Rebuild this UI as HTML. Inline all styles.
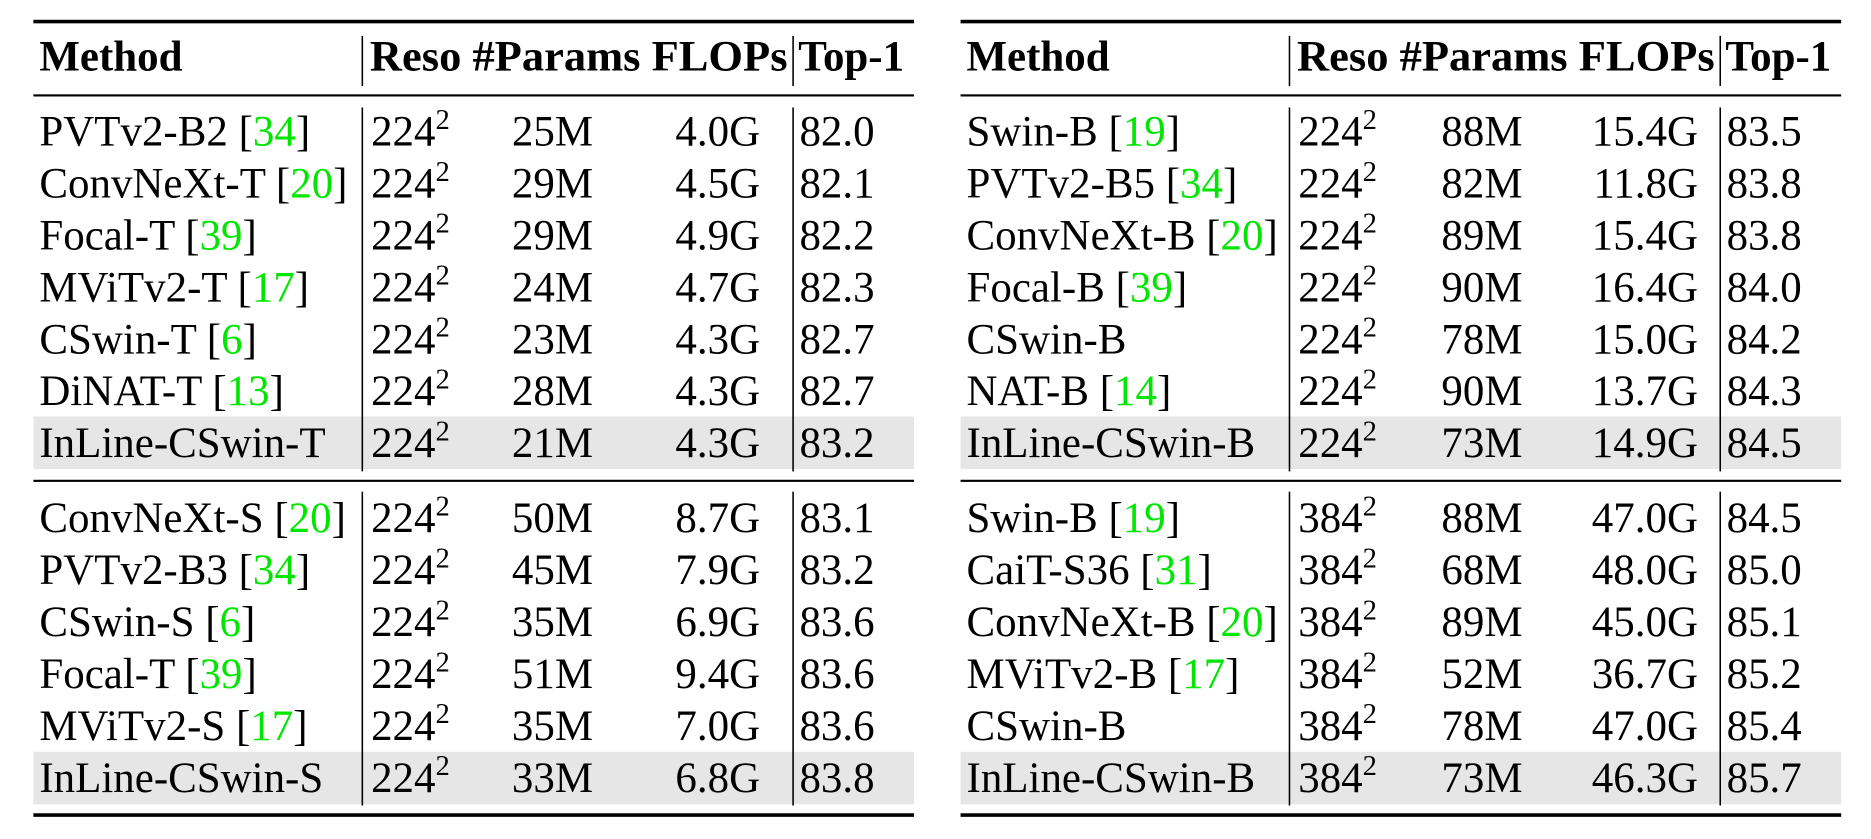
<!DOCTYPE html>
<html><head><meta charset="utf-8"><style>
html,body{margin:0;padding:0;background:#fff;}
svg{display:block;font-family:"Liberation Serif",serif;}
</style></head><body>
<svg id="s" width="1871" height="839" viewBox="0 0 1568 703"></svg>
<script>
const leftMethods=[["PVTv2-B2 ","34"],["ConvNeXt-T ","20"],["Focal-T ","39"],["MViTv2-T ","17"],["CSwin-T ","6"],["DiNAT-T ","13"],["InLine-CSwin-T",""],["ConvNeXt-S ","20"],["PVTv2-B3 ","34"],["CSwin-S ","6"],["Focal-T ","39"],["MViTv2-S ","17"],["InLine-CSwin-S",""]];
const leftReso=["224","224","224","224","224","224","224","224","224","224","224","224","224"];
const leftParams=["25M","29M","29M","24M","23M","28M","21M","50M","45M","35M","51M","35M","33M"];
const leftFlops=["4.0G","4.5G","4.9G","4.7G","4.3G","4.3G","4.3G","8.7G","7.9G","6.9G","9.4G","7.0G","6.8G"];
const leftTop1=["82.0","82.1","82.2","82.3","82.7","82.7","83.2","83.1","83.2","83.6","83.6","83.6","83.8"];
const rightMethods=[["Swin-B ","19"],["PVTv2-B5 ","34"],["ConvNeXt-B ","20"],["Focal-B ","39"],["CSwin-B",""],["NAT-B ","14"],["InLine-CSwin-B",""],["Swin-B ","19"],["CaiT-S36 ","31"],["ConvNeXt-B ","20"],["MViTv2-B ","17"],["CSwin-B",""],["InLine-CSwin-B",""]];
const rightReso=["224","224","224","224","224","224","224","384","384","384","384","384","384"];
const rightParams=["88M","82M","89M","90M","78M","90M","73M","88M","68M","89M","52M","78M","73M"];
const rightFlops=["15.4G","11.8G","15.4G","16.4G","15.0G","13.7G","14.9G","47.0G","48.0G","45.0G","36.7G","47.0G","46.3G"];
const rightTop1=["83.5","83.8","83.8","84.0","84.2","84.3","84.5","84.5","85.0","85.1","85.2","85.4","85.7"];

const S=document.getElementById('s');const NS="http://www.w3.org/2000/svg";
function el(t,a,name,txt){const e=document.createElementNS(NS,t);for(const k in a)e.setAttribute(k,a[k]);


if(txt!==undefined)e.textContent=txt;S.appendChild(e);return e;}
const rowY=[110,153.5,197,240.5,284,327.5,371,434,477.5,521,564.5,608,651.5];
function table(x0,x1,v1,v2,cols,methods,reso,params,flops,top1,side){
  el('rect',{x:x0,y:349,width:x1-x0,height:44,fill:'#e6e6e6'},side+'-highlight-row-1');
  el('rect',{x:x0,y:630,width:x1-x0,height:44,fill:'#e6e6e6'},side+'-highlight-row-2');
  el('rect',{x:x0,y:16.5,width:x1-x0,height:3,fill:'#000'},side+'-top-rule');
  el('rect',{x:x0,y:79,width:x1-x0,height:1.8,fill:'#000'},side+'-header-rule');
  el('rect',{x:x0,y:402,width:x1-x0,height:1.8,fill:'#000'},side+'-mid-rule');
  el('rect',{x:x0,y:681.5,width:x1-x0,height:3,fill:'#000'},side+'-bottom-rule');
  [[30,72],[90,395],[412,675]].forEach((r,i)=>{
    el('rect',{x:v1,y:r[0],width:1.3,height:r[1]-r[0],fill:'#000'},side+'-vline-a-'+i);
    el('rect',{x:v2,y:r[0],width:1.3,height:r[1]-r[0],fill:'#000'},side+'-vline-b-'+i);
  });
  el('text',{x:x0+5,y:59,'font-size':36,'font-weight':'bold'},side+'-header-method','Method');
  el('text',{x:v1+7,y:59,'font-size':36,'font-weight':'bold',textLength:v2-v1-11,lengthAdjust:'spacingAndGlyphs'},side+'-header-metrics','Reso #Params FLOPs');
  el('text',{x:v2+5,y:59,'font-size':36,'font-weight':'bold'},side+'-header-top1','Top-1');
  for(let i=0;i<methods.length;i++){
    const b=rowY[i]+12;
    const t=el('text',{x:x0+5,y:b,'font-size':36},side+'-method-'+i);
    const a=document.createElementNS(NS,'tspan');a.textContent=methods[i][0];t.appendChild(a);
    if(methods[i][1]){
      const s1=document.createElementNS(NS,'tspan');s1.textContent='[';t.appendChild(s1);
      const g=document.createElementNS(NS,'tspan');g.setAttribute('fill','#00e600');g.textContent=methods[i][1];t.appendChild(g);
      const s2=document.createElementNS(NS,'tspan');s2.textContent=']';t.appendChild(s2);
    }
    const r=el('text',{x:v1+8,y:b,'font-size':36},side+'-reso-'+i);
    const r1=document.createElementNS(NS,'tspan');r1.textContent=reso[i];r.appendChild(r1);
    const r2=document.createElementNS(NS,'tspan');r2.setAttribute('font-size','24');r2.setAttribute('dy','-14');r2.textContent='2';r.appendChild(r2);
    el('text',{x:cols[0],y:b,'font-size':36,'text-anchor':'end'},side+'-params-'+i,params[i]);
    el('text',{x:cols[1],y:b,'font-size':36,'text-anchor':'end'},side+'-flops-'+i,flops[i]);
    el('text',{x:v2+6,y:b,'font-size':36},side+'-top1-'+i,top1[i]);
  }
}
table(28,766,303,664,[497,637],leftMethods,leftReso,leftParams,leftFlops,leftTop1,'left');
table(805,1543,1080,1441,[1276,1423],rightMethods,rightReso,rightParams,rightFlops,rightTop1,'right');
</script>
</body></html>
